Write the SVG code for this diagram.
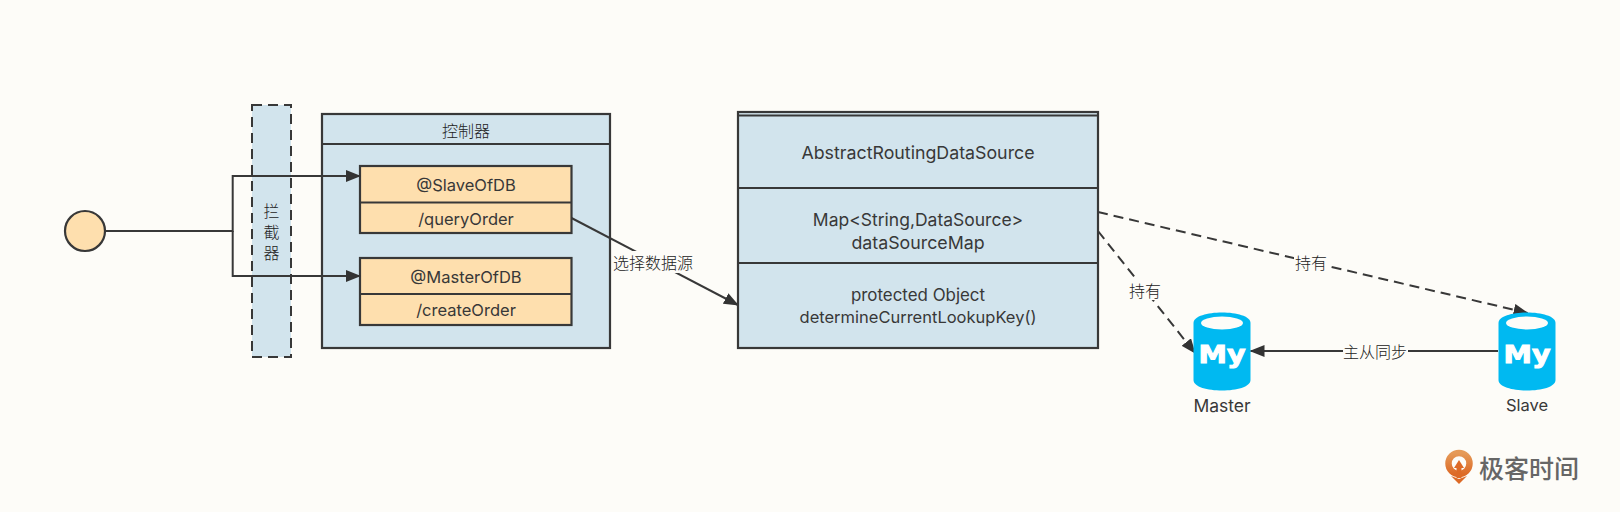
<svg xmlns="http://www.w3.org/2000/svg" width="1620" height="512" viewBox="0 0 1620 512">
<style>
text{font-family:"Inter","Liberation Sans","Noto Sans CJK SC",sans-serif;font-size:16.5px;fill:#383838;text-anchor:middle;dominant-baseline:central}
.cjk{font-family:"Noto Sans CJK SC",sans-serif;font-size:16px;font-weight:300;fill:#222}
.blue{fill:#d2e4ed;stroke:#383838;stroke-width:2.2}
.tan{fill:#fedfae;stroke:#383838;stroke-width:2.2}
.line{fill:none;stroke:#383838;stroke-width:2}
.dash{stroke-dasharray:10 6}
.halo{fill:#fdfcf8}
.db{fill:#00b9f1}
.my{font-family:"DejaVu Sans",sans-serif;font-weight:bold;font-size:25px;fill:#fff;stroke:#fff;stroke-width:1;dominant-baseline:auto}
</style>
<defs>
<marker id="arrow" markerWidth="16" markerHeight="12" refX="14" refY="6" orient="auto" markerUnits="userSpaceOnUse"><path d="M0 0L15 6L0 12Z" fill="#333"/></marker>
<linearGradient id="logoGrad" x1="0" y1="0" x2="0" y2="1"><stop offset="0" stop-color="#e59a58"/><stop offset="1" stop-color="#dd6a26"/></linearGradient>
</defs>
<rect width="1620" height="512" fill="#fdfcf8"/>
<g id="interceptor">
<rect x="252" y="105" width="39" height="252" fill="#d2e4ed"/>
<rect x="252" y="105" width="39" height="252" class="line dash"/>
</g>
<g id="start"><ellipse cx="85" cy="231" rx="20" ry="20" class="tan"/></g>
<g id="controller">
<rect x="322" y="114" width="288" height="234" class="blue"/>
<path d="M322 144H610" class="line"/>
<text class="cjk" x="466" y="130">控制器</text>
</g>
<g id="slave-box">
<rect x="360" y="166" width="211.500" height="67" class="tan"/>
<path d="M360 202.500H571.500" class="line"/>
<text x="466" y="185">@SlaveOfDB</text>
<text x="466" y="218.500">/queryOrder</text>
</g>
<g id="master-box">
<rect x="360" y="258" width="211.500" height="67" class="tan"/>
<path d="M360 294H571.500" class="line"/>
<text x="466" y="277">@MasterOfDB</text>
<text x="466" y="310">/createOrder</text>
</g>
<g id="connectors">
<path d="M105 231H232.700V176H360" class="line" marker-end="url(#arrow)"/>
<path d="M232.700 231V276H360" class="line" marker-end="url(#arrow)"/>
<path d="M571.500 218L738 305" class="line" marker-end="url(#arrow)"/>
<path d="M1098 212L1527.600 313" class="line dash" marker-end="url(#arrow)"/>
<path d="M1098 231L1195 353" class="line dash" marker-end="url(#arrow)"/>
<path d="M1498 351H1250.500" class="line" marker-end="url(#arrow)"/>
</g>
<g id="interceptor-label">
<text class="cjk" style="dominant-baseline:auto"><tspan x="271.500" y="217">拦</tspan><tspan x="271.500" y="238">截</tspan><tspan x="271.500" y="259">器</tspan></text>
</g>
<g id="routing">
<rect x="738" y="112" width="360" height="236" class="blue"/>
<path d="M738 115.500H1098M738 188H1098M738 263H1098" class="line"/>
<text x="918" y="152" style="font-size:17.800px">AbstractRoutingDataSource</text>
<text x="918" y="219" style="font-size:17.500px">Map&lt;String,DataSource&gt;</text>
<text x="918" y="242" style="font-size:17.800px">dataSourceMap</text>
<text x="918" y="295" style="font-size:16.900px">protected Object</text>
<text x="918" y="317">determineCurrentLookupKey()</text>
</g>
<g id="labels">
<rect x="612" y="251" width="82" height="22" class="halo"/><text class="cjk" x="653" y="262">选择数据源</text>
<rect x="1294" y="252" width="34" height="20" class="halo"/><text class="cjk" x="1311" y="262">持有</text>
<rect x="1128" y="280" width="34" height="20" class="halo"/><text class="cjk" x="1145" y="290">持有</text>
<rect x="1343" y="341" width="65" height="20" class="halo"/><text class="cjk" x="1375" y="351">主从同步</text>
</g>
<g id="master">
<path class="db" d="M1193.500 323C1193.500 309 1250.500 309 1250.500 323V380C1250.500 394 1193.500 394 1193.500 380Z"/>
<ellipse cx="1222" cy="323" rx="21" ry="6.500" fill="#fdfcf8"/>
<text class="my" x="1222" y="363" textLength="47" lengthAdjust="spacingAndGlyphs">My</text>
<text x="1222" y="405" style="font-size:17.500px">Master</text>
</g>
<g id="slave">
<path class="db" d="M1498.500 323C1498.500 309 1555.500 309 1555.500 323V380C1555.500 394 1498.500 394 1498.500 380Z"/>
<ellipse cx="1527" cy="323" rx="21" ry="6.500" fill="#fdfcf8"/>
<text class="my" x="1527" y="363" textLength="47" lengthAdjust="spacingAndGlyphs">My</text>
<text x="1527" y="405">Slave</text>
</g>
<g id="logo">
<circle cx="1459" cy="463.500" r="10.500" fill="none" stroke="url(#logoGrad)" stroke-width="6.500"/>
<path d="M1451 476L1459 484L1467 476L1459 479Z" fill="#dd6a26"/>
<path d="M1459 460L1464 468H1461.500V478H1456.500V468H1454Z" fill="#dd6a26"/>
<text class="cjk" x="1529" y="466.500" style="font-size:25px;font-weight:500;fill:#666">极客时间</text>
</g>
</svg>
